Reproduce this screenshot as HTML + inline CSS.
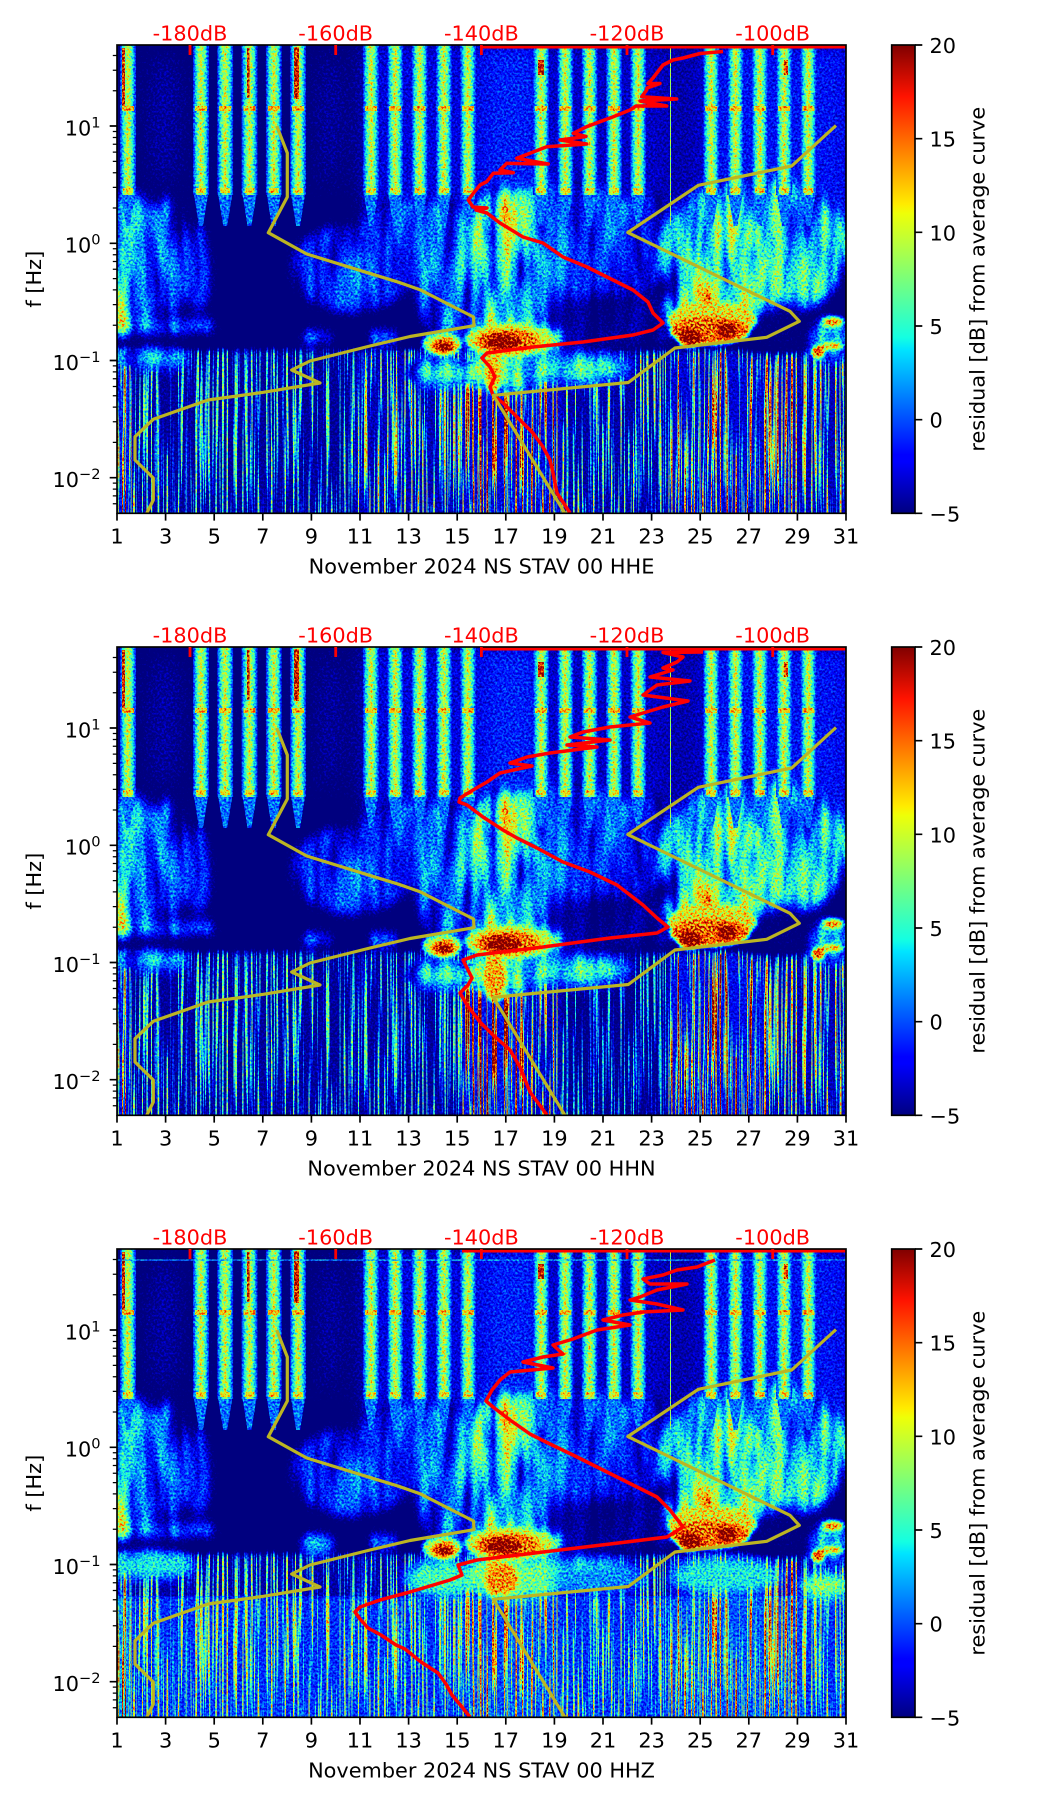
<!DOCTYPE html>
<html><head><meta charset="utf-8"><style>
html,body{margin:0;padding:0;background:#fff;}
svg{display:block;}
text{font-family:"DejaVu Sans","Liberation Sans",sans-serif;font-size:20.83px;}
</style></head><body>
<svg xmlns="http://www.w3.org/2000/svg" width="1052" height="1806" viewBox="0 0 1052 1806">
<defs>
<clipPath id="pc"><rect x="117" y="45" width="729" height="468.3"/></clipPath>
<linearGradient id="sg" x1="0" x2="1" y1="0" y2="0">
<stop offset="0" stop-color="#2e2e2e"/><stop offset="0.25" stop-color="#707070"/><stop offset="0.5" stop-color="#a0a0a0"/><stop offset="0.75" stop-color="#707070"/><stop offset="1" stop-color="#2e2e2e"/>
</linearGradient>
<linearGradient id="cbg" x1="0" y1="0" x2="0" y2="1">
<stop offset="0" stop-color="#800000"/><stop offset="0.11" stop-color="#ff1300"/><stop offset="0.25" stop-color="#ff9700"/><stop offset="0.34" stop-color="#ffec00"/><stop offset="0.36" stop-color="#eeff08"/><stop offset="0.5" stop-color="#7aff7a"/><stop offset="0.625" stop-color="#14ffe2"/><stop offset="0.65" stop-color="#00e5ff"/><stop offset="0.66" stop-color="#00dbff"/><stop offset="0.875" stop-color="#0000ff"/><stop offset="0.89" stop-color="#0000ff"/><stop offset="1" stop-color="#000080"/>
</linearGradient>
<filter id="jet" filterUnits="userSpaceOnUse" x="117" y="45" width="729" height="469" color-interpolation-filters="sRGB">
<feTurbulence type="fractalNoise" baseFrequency="0.45" numOctaves="2" seed="7" result="t"/>
<feColorMatrix in="t" type="matrix" values="2 0 0 0 -0.5 2 0 0 0 -0.5 2 0 0 0 -0.5 0 0 0 0 1" result="n"/>
<feComposite in="SourceGraphic" in2="n" operator="arithmetic" k1="0.5" k2="0.85" k3="0.1" k4="-0.12" result="v"/>
<feComponentTransfer in="v">
<feFuncR type="table" tableValues="0 0 0 0.08 0.48 0.89 1 1 0.5"/>
<feFuncG type="table" tableValues="0 0 0.5 1 1 1 0.59 0.13 0"/>
<feFuncB type="table" tableValues="0.5 1 1 0.89 0.48 0.08 0 0 0"/>
<feFuncA type="table" tableValues="1 1"/>
</feComponentTransfer>
</filter>
<filter id="streak" filterUnits="userSpaceOnUse" x="100" y="345" width="766" height="175" color-interpolation-filters="sRGB">
<feGaussianBlur in="SourceGraphic" stdDeviation="3" result="b"/>
<feTurbulence type="fractalNoise" baseFrequency="0.45 0.006" numOctaves="2" seed="4" result="t"/>
<feColorMatrix in="t" type="matrix" values="6 0 0 0 -3 6 0 0 0 -3 6 0 0 0 -3 0 0 0 0 1" result="s"/>
<feComposite in="b" in2="s" operator="arithmetic" k1="1.4" k2="0.28" k3="0" k4="0"/>
</filter>
<filter id="streakB" filterUnits="userSpaceOnUse" x="100" y="392" width="766" height="128" color-interpolation-filters="sRGB">
<feGaussianBlur in="SourceGraphic" stdDeviation="3" result="b"/>
<feTurbulence type="fractalNoise" baseFrequency="0.45 0.006" numOctaves="2" seed="4" result="t"/>
<feColorMatrix in="t" type="matrix" values="6 0 0 0 -3 6 0 0 0 -3 6 0 0 0 -3 0 0 0 0 1" result="s"/>
<feComposite in="b" in2="s" operator="arithmetic" k1="1.4" k2="0.3" k3="0" k4="0.12"/>
</filter>
<filter id="colTex" x="-30%" y="-30%" width="160%" height="160%" color-interpolation-filters="sRGB">
<feGaussianBlur in="SourceGraphic" stdDeviation="6" result="b"/>
<feTurbulence type="fractalNoise" baseFrequency="0.07 0.012" numOctaves="2" seed="9" result="t"/>
<feColorMatrix in="t" type="matrix" values="1.6 0 0 0 -0.1 1.6 0 0 0 -0.1 1.6 0 0 0 -0.1 0 0 0 0 1" result="s"/>
<feComposite in="b" in2="s" operator="arithmetic" k1="1.5" k2="0" k3="0" k4="0"/>
</filter>
<filter id="b10" x="-30%" y="-30%" width="160%" height="160%" color-interpolation-filters="sRGB"><feGaussianBlur stdDeviation="10"/></filter>
<filter id="b6" x="-30%" y="-30%" width="160%" height="160%" color-interpolation-filters="sRGB"><feGaussianBlur stdDeviation="6"/></filter>
<filter id="b2" x="-30%" y="-30%" width="160%" height="160%" color-interpolation-filters="sRGB"><feGaussianBlur stdDeviation="2.2"/></filter>

<g id="hf" filter="url(#b10)">
<rect x="100" y="40" width="262" height="160" fill="#080808"/>
<rect x="360" y="40" width="125" height="185" fill="#262626"/>
<rect x="485" y="40" width="55" height="185" fill="#333333"/>
<rect x="540" y="40" width="125" height="185" fill="#202020"/>
<rect x="665" y="40" width="40" height="185" fill="#1a1a1a"/>
<rect x="705" y="40" width="150" height="185" fill="#2e2e2e"/>
<ellipse cx="165" cy="120" rx="18" ry="70" fill="#181818"/>
<ellipse cx="330" cy="120" rx="14" ry="70" fill="#181818"/>
</g>

<g id="midSoft" filter="url(#colTex)">
<ellipse cx="130" cy="262" rx="35" ry="72" fill="#4d4d4d"/>
<ellipse cx="121" cy="290" rx="12" ry="45" fill="#6b6b6b"/>
<ellipse cx="165" cy="326" rx="55" ry="7" fill="#4d4d4d"/>
<ellipse cx="126" cy="326" rx="16" ry="9" fill="#7a7a7a"/>
<ellipse cx="150" cy="358" rx="38" ry="9" fill="#595959"/>
<ellipse cx="170" cy="255" rx="22" ry="60" fill="#3d3d3d"/>
<ellipse cx="198" cy="268" rx="12" ry="45" fill="#333333"/>
<ellipse cx="352" cy="268" rx="62" ry="45" fill="#2e2e2e"/>
<ellipse cx="366" cy="272" rx="7" ry="22" fill="#4d4d4d"/>
<ellipse cx="317" cy="338" rx="14" ry="7" fill="#595959"/>
<ellipse cx="382" cy="338" rx="16" ry="7" fill="#595959"/>
<ellipse cx="415" cy="225" rx="55" ry="28" fill="#333333"/>
<ellipse cx="560" cy="250" rx="100" ry="70" fill="#383838"/>
<ellipse cx="445" cy="270" rx="30" ry="70" fill="#404040"/>
<ellipse cx="505" cy="262" rx="50" ry="78" fill="#4d4d4d"/>
<ellipse cx="502" cy="258" rx="30" ry="72" fill="#6b6b6b"/>
<ellipse cx="495" cy="210" rx="14" ry="16" fill="#8c8c8c"/>
<polygon points="565,298 655,292 690,345 545,350" fill="#141414"/>
<ellipse cx="512" cy="338" rx="52" ry="18" fill="#7a7a7a"/>
<ellipse cx="440" cy="372" rx="35" ry="14" fill="#595959"/>
<ellipse cx="505" cy="372" rx="40" ry="20" fill="#7a7a7a"/>
<ellipse cx="575" cy="368" rx="55" ry="15" fill="#595959"/>
<ellipse cx="648" cy="240" rx="22" ry="50" fill="#2a2a2a"/>
<ellipse cx="757" cy="248" rx="95" ry="72" fill="#595959"/>
<ellipse cx="722" cy="270" rx="50" ry="60" fill="#6b6b6b"/>
<ellipse cx="830" cy="340" rx="20" ry="22" fill="#4d4d4d"/>
<polygon points="748,316 790,300 804,318 804,352 745,352" fill="#0a0a0a"/>
<ellipse cx="712" cy="305" rx="45" ry="20" fill="#8c8c8c"/>
</g>

<g id="midSharp" filter="url(#b2)">
<ellipse cx="442" cy="344" rx="20" ry="12" fill="#8c8c8c"/>
<ellipse cx="444" cy="346" rx="13" ry="8" fill="#cccccc"/>
<ellipse cx="444" cy="347" rx="7" ry="5" fill="#ffffff"/>
<ellipse cx="510" cy="340" rx="45" ry="16" fill="#999999"/>
<ellipse cx="508" cy="341" rx="32" ry="12" fill="#c8c8c8"/>
<ellipse cx="503" cy="342" rx="18" ry="8" fill="#ffffff"/>
<ellipse cx="493" cy="375" rx="8" ry="18" fill="#b3b3b3"/>
<ellipse cx="712" cy="320" rx="45" ry="18" fill="#a6a6a6"/>
<ellipse cx="710" cy="331" rx="40" ry="14" fill="#cccccc"/>
<ellipse cx="690" cy="338" rx="12" ry="9" fill="#ffffff"/>
<ellipse cx="727" cy="330" rx="10" ry="7" fill="#ffffff"/>
<ellipse cx="833" cy="322" rx="11" ry="5" fill="#c0c0c0"/>
<ellipse cx="832" cy="346" rx="11" ry="4" fill="#b3b3b3"/>
<ellipse cx="818" cy="352" rx="6" ry="6" fill="#e0e0e0"/>
</g>

<g id="st">
<rect x="-8" y="45" width="16" height="150" fill="url(#sg)"/>
<path d="M-7,195L7,195L2,226L-2,226Z" fill="#474747"/>
<rect x="-6" y="106" width="12" height="5" fill="#b0b0b0"/>
<rect x="-5" y="188" width="10" height="5" fill="#a8a8a8"/>
</g>
<g id="stripes">
<use href="#st" x="128"/><use href="#st" x="201"/><use href="#st" x="225.2"/><use href="#st" x="249.5"/><use href="#st" x="273.8"/><use href="#st" x="298.1"/>
<use href="#st" x="371"/><use href="#st" x="395.2"/><use href="#st" x="419.6"/><use href="#st" x="443.9"/><use href="#st" x="468.1"/>
<use href="#st" x="541.1"/><use href="#st" x="565.4"/><use href="#st" x="589.6"/><use href="#st" x="614"/><use href="#st" x="638.2"/>
<use href="#st" x="711.2"/><use href="#st" x="735.5"/><use href="#st" x="759.8"/><use href="#st" x="784.1"/><use href="#st" x="808.4"/>
<rect x="122" y="48" width="3" height="58" fill="#e0e0e0"/>
<rect x="247" y="48" width="2.5" height="50" fill="#e0e0e0"/>
<rect x="294" y="47" width="5" height="52" fill="#e6e6e6"/>
<rect x="538" y="60" width="6" height="15" fill="#e0e0e0"/>
<rect x="784" y="60" width="4" height="15" fill="#d8d8d8"/>
<rect x="670" y="45" width="1" height="180" fill="#8c8c8c"/>
</g>

<g id="olive" fill="none" stroke="#bcb522" stroke-width="3.2" stroke-linejoin="round">
<polyline points="276.7,126 287.3,153 287.3,197 268.3,232.7 306.7,254 400,282.7 420,289.7 473.5,317 474,325.7 410,336.5 370,346 310,361 291.7,370 320,383 263.3,392.3 208,400 153.3,419.3 135,436.7 135,460 153.3,478 153.3,500 146.7,513.3"/>
<polyline points="836,125.5 791.7,166 698.3,185.3 627.8,232.5 790,311.3 799.3,321.3 766.7,337.3 675,348 628.3,382.5 493.3,395.3 565,513.3"/>
</g>

<g id="axes">
<rect x="117" y="45" width="729" height="468.3" fill="none" stroke="#000" stroke-width="1.67"/>
<path d="M117,513.3v7.3M165.6,513.3v7.3M214.2,513.3v7.3M262.8,513.3v7.3M311.4,513.3v7.3M360,513.3v7.3M408.6,513.3v7.3M457.2,513.3v7.3M505.8,513.3v7.3M554.4,513.3v7.3M603,513.3v7.3M651.6,513.3v7.3M700.2,513.3v7.3M748.8,513.3v7.3M797.4,513.3v7.3M846,513.3v7.3M117,126h-7.3M117,243.3h-7.3M117,360.5h-7.3M117,477.7h-7.3" stroke="#000" stroke-width="1.67" fill="none"/>
<path d="M117,90.8h-4.2M117,70.2h-4.2M117,55.5h-4.2M117,208h-4.2M117,187.4h-4.2M117,172.7h-4.2M117,161.4h-4.2M117,152.1h-4.2M117,144.3h-4.2M117,137.5h-4.2M117,131.5h-4.2M117,325.2h-4.2M117,304.6h-4.2M117,289.9h-4.2M117,278.6h-4.2M117,269.3h-4.2M117,261.5h-4.2M117,254.7h-4.2M117,248.7h-4.2M117,442.4h-4.2M117,421.8h-4.2M117,407.1h-4.2M117,395.8h-4.2M117,386.5h-4.2M117,378.7h-4.2M117,371.9h-4.2M117,365.9h-4.2M117,503.7h-4.2M117,495.9h-4.2M117,489.1h-4.2M117,483.1h-4.2" stroke="#000" stroke-width="1.25" fill="none"/>
<rect x="891.7" y="45" width="23.3" height="468.3" fill="url(#cbg)" stroke="#000" stroke-width="1.67"/>
<path d="M915,45h7.3M915,138.7h7.3M915,232.3h7.3M915,326h7.3M915,419.7h7.3M915,513.3h7.3" stroke="#000" stroke-width="1.67" fill="none"/>
<path d="M190,45v10M335.7,45v10M481.4,45v10M627,45v10M772.7,45v10" stroke="#ff0000" stroke-width="2.8" fill="none"/>
</g>
</defs>

<!-- ================= PANEL 1 (HHE) ================= -->
<g>
<g clip-path="url(#pc)">
<g filter="url(#jet)">
<rect x="117" y="45" width="729" height="469" fill="#000"/>
<use href="#hf"/>
<g filter="url(#streak)">
<rect x="100" y="350" width="766" height="170" fill="#4d4d4d"/>
<rect x="100" y="350" width="32" height="170" fill="#a6a6a6"/>
<rect x="355" y="350" width="107" height="170" fill="#666666"/>
<rect x="462" y="350" width="100" height="170" fill="#8c8c8c"/>
<rect x="562" y="350" width="106" height="170" fill="#595959"/>
<rect x="668" y="350" width="127" height="170" fill="#808080"/>
<rect x="795" y="350" width="71" height="170" fill="#666666"/>
</g>
<use href="#midSoft"/>
<use href="#midSharp"/>
<use href="#stripes"/>
</g>
<polyline fill="none" stroke="#ff0000" stroke-width="3.5" stroke-linejoin="round" points="723,51.5 700,53.5 683,58 673,60 663,65 658,71.5 653,78 648,83.5 660,83.5 647,88 646.7,90 641.7,96.7 676.7,99 640,101 666.7,106 636,106 630,110 613.3,116.7 600,121.7 586.7,126.7 573.3,133.3 586,136.5 560,140 586.7,144 546.7,146.7 530,153.3 516.7,158.3 548.3,164 506.7,163.3 500,170 513.3,172.7 493.3,173.3 486.7,181.7 480,185 473.3,193.3 468.3,200 473,207 487,208 476,210 487,213 500,223 523,237 543,243 563,257 587,267 613,280 633,290 648,302 653,313 663,323 653,330 633,335 583,342 533,347 487,353 482,358 490,367 495,377 490,387 493,395 503,403 517,417 533,433 543,447 550,460 553,473 557,493 570,513"/>
<use href="#olive"/>
<path d="M482,47H846" stroke="#ff0000" stroke-width="3"/>
</g>
<use href="#axes"/>
<text text-anchor="middle" y="543.3"><tspan x="117">1</tspan><tspan x="165.6">3</tspan><tspan x="214.2">5</tspan><tspan x="262.8">7</tspan><tspan x="311.4">9</tspan><tspan x="360">11</tspan><tspan x="408.6">13</tspan><tspan x="457.2">15</tspan><tspan x="505.8">17</tspan><tspan x="554.4">19</tspan><tspan x="603">21</tspan><tspan x="651.6">23</tspan><tspan x="700.2">25</tspan><tspan x="748.8">27</tspan><tspan x="797.4">29</tspan><tspan x="846">31</tspan></text>
<text x="100.5" y="135.3" text-anchor="end">10<tspan dy="-8" font-size="14.6">1</tspan></text>
<text x="100.5" y="252.6" text-anchor="end">10<tspan dy="-8" font-size="14.6">0</tspan></text>
<text x="100.5" y="369.8" text-anchor="end">10<tspan dy="-8" font-size="14.6">−1</tspan></text>
<text x="100.5" y="487" text-anchor="end">10<tspan dy="-8" font-size="14.6">−2</tspan></text>
<text fill="#ff0000" text-anchor="middle" y="40.7"><tspan x="190">-180dB</tspan><tspan x="335.7">-160dB</tspan><tspan x="481.4">-140dB</tspan><tspan x="627">-120dB</tspan><tspan x="772.7">-100dB</tspan></text>
<text x="929.5" y="53">20</text><text x="929.5" y="146.7">15</text><text x="929.5" y="240.3">10</text><text x="929.5" y="334">5</text><text x="929.5" y="427.7">0</text><text x="929.5" y="521.3">−5</text>
<text x="481.5" y="573.3" text-anchor="middle">November 2024 NS STAV 00 HHE</text>
<text transform="translate(41,279.2) rotate(-90)" text-anchor="middle">f [Hz]</text>
<text transform="translate(984.5,279.2) rotate(-90)" text-anchor="middle">residual [dB] from average curve</text>
</g>

<!-- ================= PANEL 2 (HHN) ================= -->
<g transform="translate(0,602)">
<g clip-path="url(#pc)">
<g filter="url(#jet)">
<rect x="117" y="45" width="729" height="469" fill="#000"/>
<use href="#hf"/>
<g filter="url(#streak)">
<rect x="100" y="350" width="766" height="170" fill="#4d4d4d"/>
<rect x="100" y="350" width="30" height="170" fill="#999999"/>
<rect x="462" y="350" width="63" height="170" fill="#a6a6a6"/>
<rect x="525" y="350" width="37" height="170" fill="#737373"/>
<rect x="562" y="350" width="106" height="170" fill="#404040"/>
<rect x="668" y="350" width="97" height="170" fill="#999999"/>
<rect x="765" y="350" width="101" height="170" fill="#666666"/>
</g>
<use href="#midSoft"/>
<use href="#midSharp"/>
<g filter="url(#b2)"><ellipse cx="495" cy="378" rx="11" ry="22" fill="#b8b8b8"/></g>
<use href="#stripes"/>
</g>
<polyline fill="none" stroke="#ff0000" stroke-width="3.5" stroke-linejoin="round" points="703,50 663,50.5 683,55 677,60 663,66 673,68 650,75 690,79 657,83 643,93 688,99 663,105 643,111 630,115 650,121 610,125 583,130 570,135 610,138 567,143 597,145 550,151 527,155 510,161 532,164 500,171 487,180 473,188 460,196 459,200 467,203 483,215 503,228 517,236 537,246 563,260 590,270 617,283 643,303 657,316 668,325 657,331 610,336 543,345 477,353 463,358 472,376 468,383 460,391 467,403 480,420 493,433 510,448 520,465 530,490 547,513"/>
<use href="#olive"/>
<path d="M482,47H846" stroke="#ff0000" stroke-width="3"/>
</g>
<use href="#axes"/>
<text text-anchor="middle" y="543.3"><tspan x="117">1</tspan><tspan x="165.6">3</tspan><tspan x="214.2">5</tspan><tspan x="262.8">7</tspan><tspan x="311.4">9</tspan><tspan x="360">11</tspan><tspan x="408.6">13</tspan><tspan x="457.2">15</tspan><tspan x="505.8">17</tspan><tspan x="554.4">19</tspan><tspan x="603">21</tspan><tspan x="651.6">23</tspan><tspan x="700.2">25</tspan><tspan x="748.8">27</tspan><tspan x="797.4">29</tspan><tspan x="846">31</tspan></text>
<text x="100.5" y="135.3" text-anchor="end">10<tspan dy="-8" font-size="14.6">1</tspan></text>
<text x="100.5" y="252.6" text-anchor="end">10<tspan dy="-8" font-size="14.6">0</tspan></text>
<text x="100.5" y="369.8" text-anchor="end">10<tspan dy="-8" font-size="14.6">−1</tspan></text>
<text x="100.5" y="487" text-anchor="end">10<tspan dy="-8" font-size="14.6">−2</tspan></text>
<text fill="#ff0000" text-anchor="middle" y="40.7"><tspan x="190">-180dB</tspan><tspan x="335.7">-160dB</tspan><tspan x="481.4">-140dB</tspan><tspan x="627">-120dB</tspan><tspan x="772.7">-100dB</tspan></text>
<text x="929.5" y="53">20</text><text x="929.5" y="146.7">15</text><text x="929.5" y="240.3">10</text><text x="929.5" y="334">5</text><text x="929.5" y="427.7">0</text><text x="929.5" y="521.3">−5</text>
<text x="481.5" y="573.3" text-anchor="middle">November 2024 NS STAV 00 HHN</text>
<text transform="translate(41,279.2) rotate(-90)" text-anchor="middle">f [Hz]</text>
<text transform="translate(984.5,279.2) rotate(-90)" text-anchor="middle">residual [dB] from average curve</text>
</g>

<!-- ================= PANEL 3 (HHZ) ================= -->
<g transform="translate(0,1204)">
<g clip-path="url(#pc)">
<g filter="url(#jet)">
<rect x="117" y="45" width="729" height="469" fill="#000"/>
<use href="#hf"/>
<g filter="url(#streak)">
<rect x="100" y="350" width="766" height="170" fill="#595959"/>
<rect x="100" y="350" width="30" height="170" fill="#b3b3b3"/>
<rect x="462" y="350" width="98" height="170" fill="#808080"/>
<rect x="668" y="350" width="132" height="170" fill="#808080"/>
</g>
<g filter="url(#streakB)">
<rect x="100" y="392" width="766" height="128" fill="#4d4d4d"/>
<rect x="100" y="392" width="30" height="128" fill="#a6a6a6"/>
<rect x="462" y="392" width="98" height="128" fill="#666666"/>
<rect x="668" y="392" width="132" height="128" fill="#6b6b6b"/>
</g>
<use href="#midSoft"/>
<g filter="url(#b6)">
<ellipse cx="150" cy="362" rx="45" ry="12" fill="#666666"/>
<ellipse cx="440" cy="375" rx="35" ry="16" fill="#737373"/>
<ellipse cx="520" cy="375" rx="50" ry="18" fill="#808080"/>
<ellipse cx="600" cy="375" rx="50" ry="14" fill="#4d4d4d"/>
<ellipse cx="725" cy="372" rx="55" ry="18" fill="#666666"/>
<ellipse cx="825" cy="382" rx="25" ry="12" fill="#8c8c8c"/>
<ellipse cx="318" cy="342" rx="15" ry="8" fill="#666666"/>
</g>
<use href="#midSharp"/>
<g filter="url(#b2)"><ellipse cx="503" cy="375" rx="15" ry="16" fill="#bfbfbf"/></g>
<use href="#stripes"/>
<rect x="117" y="55.5" width="729" height="1.2" fill="#555555"/>
</g>
<polyline fill="none" stroke="#ff0000" stroke-width="3.5" stroke-linejoin="round" points="715,56 697,63 677,66 663,71 643,75 650,80 687,80 657,86 640,93 630,96 657,100 683,106 643,108 623,111 603,116 630,121 597,126 573,135 553,141 563,150 543,153 523,158 553,164 510,168 500,176 492,186 486,197 493,203 510,216 530,230 550,240 573,251 597,263 623,276 657,293 670,306 683,323 667,333 610,340 543,348 477,356 458,361 462,371 450,376 410,388 380,396 360,403 355,408 360,415 368,424 381,431 396,441 405,445 421,458 438,469 446,480 452,491 462,503 470,513"/>
<use href="#olive"/>
<path d="M462,47H846" stroke="#ff0000" stroke-width="3"/>
</g>
<use href="#axes"/>
<text text-anchor="middle" y="543.3"><tspan x="117">1</tspan><tspan x="165.6">3</tspan><tspan x="214.2">5</tspan><tspan x="262.8">7</tspan><tspan x="311.4">9</tspan><tspan x="360">11</tspan><tspan x="408.6">13</tspan><tspan x="457.2">15</tspan><tspan x="505.8">17</tspan><tspan x="554.4">19</tspan><tspan x="603">21</tspan><tspan x="651.6">23</tspan><tspan x="700.2">25</tspan><tspan x="748.8">27</tspan><tspan x="797.4">29</tspan><tspan x="846">31</tspan></text>
<text x="100.5" y="135.3" text-anchor="end">10<tspan dy="-8" font-size="14.6">1</tspan></text>
<text x="100.5" y="252.6" text-anchor="end">10<tspan dy="-8" font-size="14.6">0</tspan></text>
<text x="100.5" y="369.8" text-anchor="end">10<tspan dy="-8" font-size="14.6">−1</tspan></text>
<text x="100.5" y="487" text-anchor="end">10<tspan dy="-8" font-size="14.6">−2</tspan></text>
<text fill="#ff0000" text-anchor="middle" y="40.7"><tspan x="190">-180dB</tspan><tspan x="335.7">-160dB</tspan><tspan x="481.4">-140dB</tspan><tspan x="627">-120dB</tspan><tspan x="772.7">-100dB</tspan></text>
<text x="929.5" y="53">20</text><text x="929.5" y="146.7">15</text><text x="929.5" y="240.3">10</text><text x="929.5" y="334">5</text><text x="929.5" y="427.7">0</text><text x="929.5" y="521.3">−5</text>
<text x="481.5" y="573.3" text-anchor="middle">November 2024 NS STAV 00 HHZ</text>
<text transform="translate(41,279.2) rotate(-90)" text-anchor="middle">f [Hz]</text>
<text transform="translate(984.5,279.2) rotate(-90)" text-anchor="middle">residual [dB] from average curve</text>
</g>
</svg>
</body></html>
